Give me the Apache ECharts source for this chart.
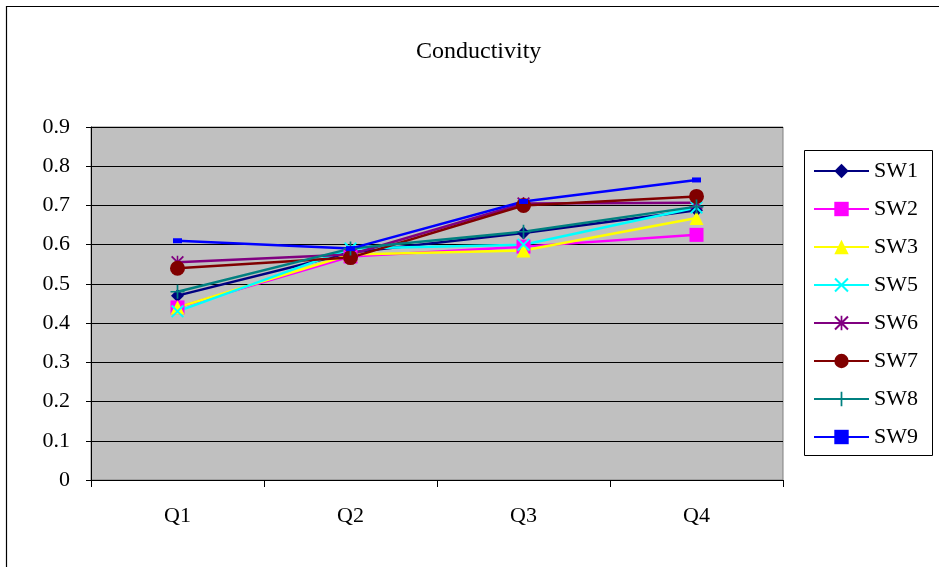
<!DOCTYPE html>
<html><head><meta charset="utf-8">
<script src="https://cdn.jsdelivr.net/npm/echarts@6/dist/echarts.min.js"></script>
<style>html,body{margin:0;padding:0;background:#fff}#c{width:939px;height:567px}</style>
</head><body><div id="c"></div>
<script>
const categories = ['Q1','Q2','Q3','Q4'];
const yTicks = [0,0.1,0.2,0.3,0.4,0.5,0.6,0.7,0.8,0.9];
const SW1 = [0.47, 0.58, 0.63, 0.688];
const SW2 = [0.44, 0.57, 0.595, 0.625];
const SW3 = [0.44, 0.575, 0.585, 0.668];
const SW5 = [0.43, 0.59, 0.60, 0.695];
const SW6 = [0.555, 0.575, 0.705, 0.707];
const SW7 = [0.54, 0.567, 0.70, 0.723];
const SW8 = [0.48, 0.59, 0.633, 0.697];
const SW9 = [0.61, 0.59, 0.71, 0.765];

const X = 'path://M0,1 L1,0 L10,9 L9,10 Z M9,0 L10,1 L1,10 L0,9 Z';
const AST = 'path://M0,1 L1,0 L10,9 L9,10 Z M9,0 L10,1 L1,10 L0,9 Z M4.4,0 L5.6,0 L5.6,10 L4.4,10 Z';
const PLUS = 'path://M4.4,0 L5.6,0 L5.6,10 L4.4,10 Z M0,4.4 L10,4.4 L10,5.6 L0,5.6 Z';

const defs = [
  ['SW1', SW1, '#000080', 'diamond', 13],
  ['SW2', SW2, '#FF00FF', 'rect', 14],
  ['SW3', SW3, '#FFFF00', 'triangle', 14],
  ['SW5', SW5, '#00FFFF', X, 13],
  ['SW6', SW6, '#800080', AST, 13],
  ['SW7', SW7, '#800000', 'circle', 15],
  ['SW8', SW8, '#008080', PLUS, 14],
  ['SW9', SW9, '#0000FF', 'rect', [9,5]]
];

const font = '"Liberation Serif","Times New Roman",serif';
const chart = echarts.init(document.getElementById('c'));
chart.setOption({
  animation:false,
  backgroundColor:'#fff',
  title:{text:'Conductivity',top:40,left:416,padding:0,textStyle:{fontFamily:font,fontSize:24,fontWeight:'normal',color:'#000'}},
  graphic:[{type:'rect',shape:{x:6.5,y:6.5,width:960,height:600},style:{fill:'none',stroke:'#000',lineWidth:1.2},z:-1},
           {type:'rect',shape:{x:804.5,y:150.5,width:128,height:305},style:{fill:'#fff',stroke:'#000',lineWidth:1},z:0}],
  legend:{left:813,top:160,padding:0,orient:'vertical',itemWidth:55,itemHeight:18,itemGap:16,itemTextGap:5,
    textStyle:{fontFamily:font,fontSize:22,color:'#000',lineHeight:22},z:5,
    data:defs.map(d=>d[0])},
  grid:{left:91,right:156,top:127,bottom:87,show:true,backgroundColor:'#C0C0C0',borderColor:'#808080',borderWidth:1},
  xAxis:{type:'category',data:categories,boundaryGap:true,
    axisLine:{lineStyle:{color:'#000',width:1}},
    axisTick:{show:true,length:7,lineStyle:{color:'#000'}},
    axisLabel:{fontFamily:font,fontSize:22,color:'#000',margin:25}},
  yAxis:{type:'value',min:0,max:0.9,interval:0.1,
    axisLine:{show:true,lineStyle:{color:'#000',width:1}},
    axisTick:{show:true,length:5,lineStyle:{color:'#000'}},
    splitLine:{lineStyle:{color:'#000',width:1}},
    axisLabel:{fontFamily:font,fontSize:22,color:'#000',margin:21,formatter:v=>String(Math.round(v*10)/10)}},
  series:defs.map(d=>({
    name:d[0],type:'line',data:d[1],symbol:d[3],symbolSize:d[4],showSymbol:true,
    lineStyle:{color:d[2],width:2.5},itemStyle:{color:d[2]},color:d[2]
  }))
});
</script></body></html>
